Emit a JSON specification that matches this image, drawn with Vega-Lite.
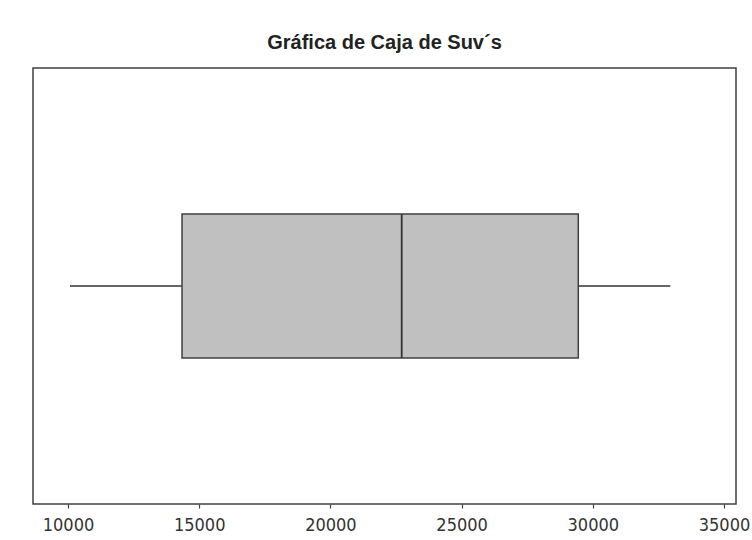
{
  "$schema": "https://vega.github.io/schema/vega-lite/v6.json",
  "width": 703,
  "height": 436,
  "autosize": {"type": "none"},
  "padding": {"left": 33, "top": 68, "right": 16, "bottom": 36},
  "background": "white",
  "title": {
    "text": "Gráfica de Caja de Suv´s",
    "font": "Liberation Sans",
    "fontSize": 20,
    "fontWeight": "bold",
    "color": "#222222",
    "anchor": "middle",
    "frame": "group",
    "baseline": "alphabetic",
    "offset": 20,
    "dy": 21
  },
  "data": {
    "values": [
      {"grupo": "Suv", "min": 10076, "q1": 14345, "mediana": 22717, "q3": 29447, "max": 32953}
    ]
  },
  "encoding": {
    "y": {"field": "grupo", "type": "nominal", "axis": null, "scale": {"paddingInner": 0, "paddingOuter": 0}}
  },
  "layer": [
    {
      "mark": {"type": "rule", "color": "#333333", "strokeWidth": 1.5},
      "encoding": {
        "x": {
          "field": "min",
          "type": "quantitative",
          "scale": {"domain": [8666, 35457], "nice": false, "zero": false},
          "axis": {
            "values": [10000, 15000, 20000, 25000, 30000, 35000],
            "format": "d",
            "domain": false,
            "grid": false,
            "tickSize": 4,
            "tickColor": "#404040",
            "tickWidth": 1.2,
            "labelFont": "DejaVu Sans Condensed",
            "labelFontSize": 18,
            "labelColor": "#333333",
            "labelPadding": 8,
            "title": null
          }
        },
        "x2": {"field": "q1"}
      }
    },
    {
      "mark": {"type": "rule", "color": "#333333", "strokeWidth": 1.5},
      "encoding": {
        "x": {"field": "q3", "type": "quantitative"},
        "x2": {"field": "max"}
      }
    },
    {
      "mark": {"type": "bar", "size": 144, "fill": "#c0c0c0", "stroke": "#404040", "strokeWidth": 1.5},
      "encoding": {
        "x": {"field": "q1", "type": "quantitative"},
        "x2": {"field": "q3"}
      }
    },
    {
      "mark": {"type": "tick", "size": 144, "thickness": 1.8, "color": "#333333", "opacity": 1},
      "encoding": {
        "x": {"field": "mediana", "type": "quantitative"}
      }
    }
  ],
  "config": {
    "view": {"stroke": "#404040", "strokeWidth": 1.5}
  }
}
